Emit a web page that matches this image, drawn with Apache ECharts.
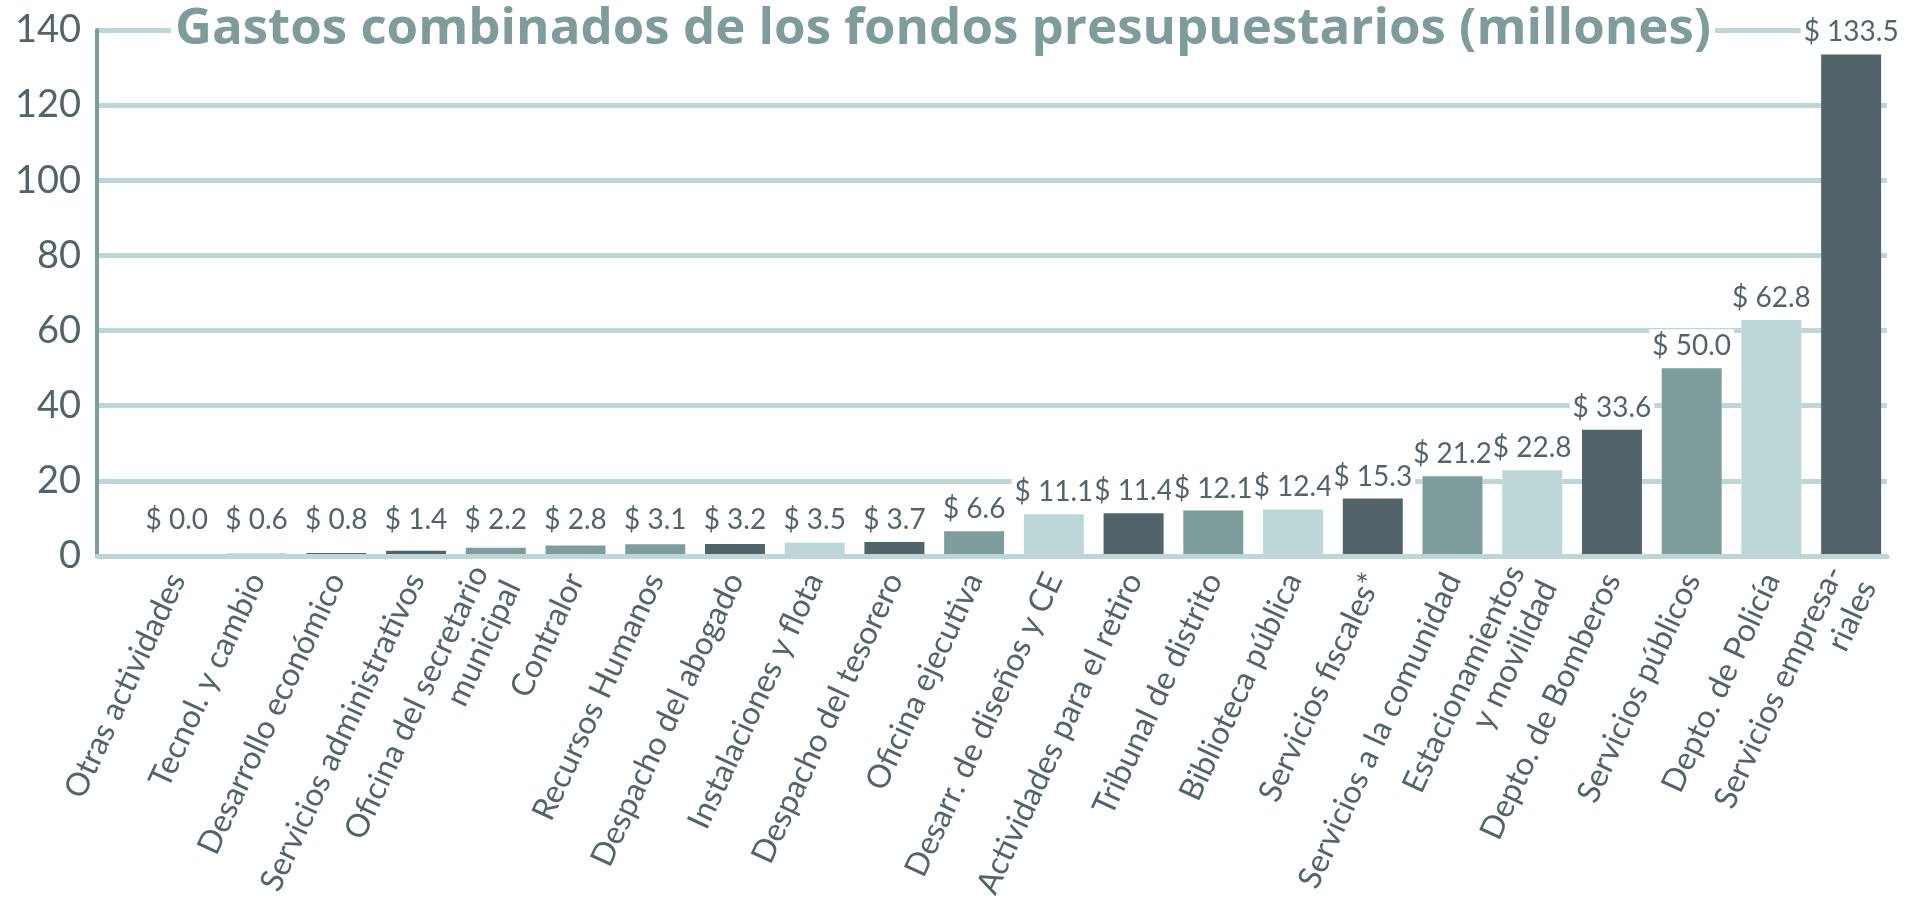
<!DOCTYPE html>
<html>
<head>
<meta charset="utf-8">
<title>Gastos combinados de los fondos presupuestarios</title>
<script src="https://cdn.jsdelivr.net/npm/echarts@6/dist/echarts.min.js"></script>
<style>
  html, body { margin: 0; padding: 0; background: #fff; }
  #chart { width: 1912px; height: 903px; }
</style>
</head>
<body>
<div id="chart"></div>
<script>
// categorías (departamentos)
const categories = [
    'Otras actividades', 'Tecnol. y cambio', 'Desarrollo económico', 'Servicios administrativos',
    'Oficina del secretario\nmunicipal', 'Contralor', 'Recursos Humanos', 'Despacho del abogado',
    'Instalaciones y flota', 'Despacho del tesorero', 'Oficina ejecutiva', 'Desarr. de diseños y CE',
    'Actividades para el retiro', 'Tribunal de distrito', 'Biblioteca pública', 'Servicios fiscales*',
    'Servicios a la comunidad', 'Estacionamientos\ny movilidad', 'Depto. de Bomberos', 'Servicios públicos',
    'Depto. de Policía', 'Servicios empresa-\nriales'
];

// gastos en millones
const gastos = [0.0, 0.6, 0.8, 1.4, 2.2, 2.8, 3.1, 3.2, 3.5, 3.7, 6.6, 11.1,
    11.4, 12.1, 12.4, 15.3, 21.2, 22.8, 33.6, 50.0, 62.8, 133.5];

// marcas del eje Y
const yTicks = [0, 20, 40, 60, 80, 100, 120, 140];

const DARK = '#52646a';
const MID = '#7f9c9c';
const LIGHT = '#bdd7d8';

// color de cada barra
const barColors = ['#c9c9c9', DARK, DARK, DARK, MID, MID, MID, DARK, LIGHT, DARK, MID,
    LIGHT, DARK, MID, LIGHT, DARK, MID, LIGHT, DARK, MID, LIGHT, DARK];

const FONT = 'Lato';

var myChart = echarts.init(document.getElementById('chart'));

var option = {
    animation: false,
    backgroundColor: '#fff',
    title: {
        text: 'Gastos combinados de los fondos presupuestarios (millones)',
        left: 171,
        top: 1,
        padding: [0, 4],
        backgroundColor: '#fff',
        textStyle: {
            fontFamily: 'Open Sans',
            fontWeight: 700,
            fontSize: 51,
            lineHeight: 56,
            color: MID
        }
    },
    grid: [
        // rejilla: líneas guía y eje Y
        { left: 97, right: 25, top: 30, bottom: 347 },
        // barras
        { left: 137, right: 21, top: 30, bottom: 347 }
    ],
    xAxis: [
        {
            gridIndex: 0,
            type: 'value',
            min: 0,
            max: 1,
            z: 5,
            offset: 3,
            axisLine: { show: true, lineStyle: { color: LIGHT, width: 5 } },
            axisTick: { show: false },
            axisLabel: { show: false },
            splitLine: { show: false }
        },
        {
            gridIndex: 1,
            type: 'category',
            data: categories,
            z: 5,
            axisLine: { show: false },
            axisTick: { show: false },
            axisLabel: {
                interval: 0,
                rotate: 65,
                margin: 19,
                fontFamily: FONT,
                fontSize: 32,
                lineHeight: 36,
                color: DARK
            }
        }
    ],
    yAxis: [
        {
            gridIndex: 0,
            type: 'value',
            min: yTicks[0],
            max: yTicks[yTicks.length - 1],
            interval: yTicks[1] - yTicks[0],
            axisLine: { show: true, lineStyle: { color: MID, width: 4 } },
            axisTick: { show: false },
            axisLabel: {
                margin: 16,
                fontFamily: FONT,
                fontSize: 38,
                color: DARK,
                padding: [12, 0, 0, 0]
            },
            splitLine: { show: true, showMinLine: false, lineStyle: { color: LIGHT, width: 5 } }
        },
        {
            gridIndex: 1,
            type: 'value',
            min: yTicks[0],
            max: yTicks[yTicks.length - 1],
            show: false,
            splitLine: { show: false }
        }
    ],
    series: [
        {
            // fondo blanco que tapa las líneas guía alrededor de las barras
            name: 'fondo',
            type: 'bar',
            xAxisIndex: 1,
            yAxisIndex: 1,
            data: gastos,
            barWidth: 60,
            barGap: '-100%',
            silent: true,
            z: 1,
            itemStyle: { color: '#fff', borderColor: '#fff', borderWidth: 40 }
        },
        {
            name: 'Gastos',
            type: 'bar',
            xAxisIndex: 1,
            yAxisIndex: 1,
            data: gastos,
            barWidth: 60,
            barGap: '-100%',
            barMinHeight: 1,
            z: 2,
            itemStyle: {
                color: function (p) { return barColors[p.dataIndex]; }
            }
        },
        {
            // etiquetas de valor
            name: 'etiquetas',
            type: 'bar',
            xAxisIndex: 1,
            yAxisIndex: 1,
            data: gastos,
            barWidth: 60,
            barGap: '-100%',
            barMinHeight: 14,
            silent: true,
            z: 3,
            itemStyle: { color: 'rgba(0,0,0,0)' },
            label: {
                show: true,
                position: 'top',
                distance: 5,
                formatter: function (p) { return '$ ' + p.value.toFixed(1); },
                fontFamily: FONT,
                fontSize: 28,
                lineHeight: 30,
                color: DARK,
                backgroundColor: '#fff',
                padding: [2, 3]
            }
        }
    ]
};

myChart.setOption(option);
</script>
</body>
</html>
